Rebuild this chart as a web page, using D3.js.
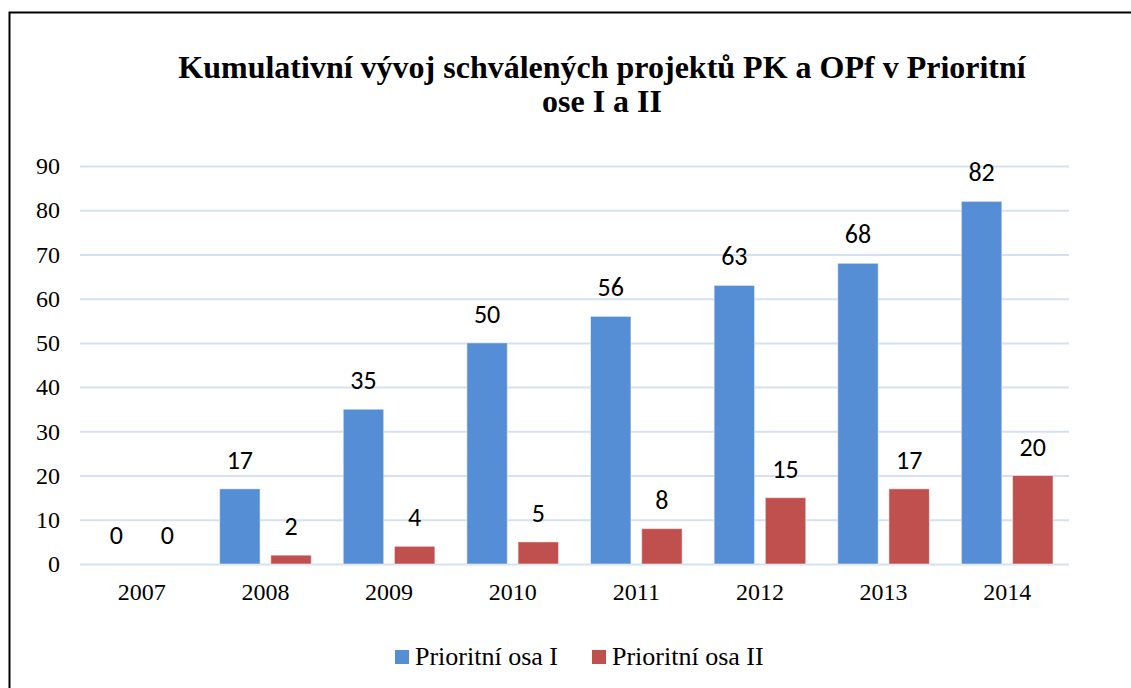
<!DOCTYPE html>
<html>
<head>
<meta charset="utf-8">
<script src="https://cdnjs.cloudflare.com/ajax/libs/d3/7.8.5/d3.min.js"></script>
<style>
  body { margin: 0; background: #fff; }
  svg { display: block; }
</style>
</head>
<body>
<div id="container"></div>
<script>
// Data
const years = ['2007', '2008', '2009', '2010', '2011', '2012', '2013', '2014'];
const osaI = [0, 17, 35, 50, 56, 63, 68, 82];
const osaII = [0, 2, 4, 5, 8, 15, 17, 20];
const seriesNames = ['Prioritní osa I', 'Prioritní osa II'];
const seriesColors = ['#558ED5', '#C0504D'];
const yTicks = [0, 10, 20, 30, 40, 50, 60, 70, 80, 90];

const W = 1131, H = 688;
const serif = "'Liberation Serif', 'Times New Roman', serif";
const svg = d3.select('#container').append('svg')
  .attr('width', W).attr('height', H);

// outer frame (runs off the right/bottom edge)
svg.append('rect')
  .attr('x', 9.5).attr('y', 12.5)
  .attr('width', W + 20).attr('height', H + 20)
  .attr('fill', 'none').attr('stroke', '#000').attr('stroke-width', 2);

// Title
const title = svg.append('text')
  .attr('text-anchor', 'middle')
  .attr('font-family', serif)
  .attr('font-weight', 'bold')
  .attr('font-size', 32);
title.append('tspan').attr('x', 602).attr('y', 78)
  .text('Kumulativní vývoj schválených projektů PK a OPf v Prioritní');
title.append('tspan').attr('x', 602).attr('y', 112)
  .text('ose I a II');

// plot area
const plotLeft = 80, plotRight = 1069, plotTop = 166, plotBottom = 564;

const x0 = d3.scaleBand().domain(years).range([plotLeft, plotRight]).paddingInner(0).paddingOuter(0);
const x1 = d3.scaleBand().domain([0, 1]).range([16, x0.bandwidth() - 16]).paddingInner(0.21);
const y = d3.scaleLinear().domain([0, 90]).range([plotBottom, plotTop]);

// grid lines
svg.append('g')
  .attr('transform', `translate(${plotLeft},0)`)
  .call(d3.axisLeft(y).tickValues(yTicks).tickSize(-(plotRight - plotLeft)).tickFormat(''))
  .call(g => g.select('.domain').remove())
  .call(g => g.selectAll('line').attr('stroke', '#D5E1F1').attr('stroke-width', 2));

// y axis labels
svg.append('g')
  .attr('transform', `translate(${plotLeft - 20},0)`)
  .call(d3.axisLeft(y).tickValues(yTicks).tickSize(0).tickPadding(0))
  .call(g => g.select('.domain').remove())
  .call(g => g.selectAll('text')
    .attr('font-family', serif)
    .attr('font-size', 24).attr('fill', '#000'));

// x axis labels
svg.append('g')
  .attr('transform', `translate(0,${plotBottom})`)
  .call(d3.axisBottom(x0).tickSize(0).tickPadding(19))
  .call(g => g.select('.domain').remove())
  .call(g => g.selectAll('text')
    .attr('font-family', serif)
    .attr('font-size', 24).attr('fill', '#000'));

// bars
const series = [osaI, osaII];
const groups = svg.append('g').selectAll('g')
  .data(years)
  .enter().append('g')
  .attr('transform', d => `translate(${x0(d)},0)`);

groups.selectAll('rect')
  .data((d, i) => series.map((s, k) => ({ k, v: s[i] })))
  .enter().append('rect')
  .attr('x', d => x1(d.k))
  .attr('y', d => y(d.v))
  .attr('width', x1.bandwidth())
  .attr('height', d => plotBottom - y(d.v))
  .attr('fill', d => seriesColors[d.k])
  .attr('stroke', d => d.v > 0 ? 'rgba(255,255,255,0.5)' : 'none')
  .attr('stroke-width', 1);

groups.selectAll('text')
  .data((d, i) => series.map((s, k) => ({ k, v: s[i] })))
  .enter().append('text')
  .attr('x', d => x1(d.k) + x1.bandwidth() / 2)
  .attr('y', d => y(d.v) - 20)
  .attr('text-anchor', 'middle')
  .attr('font-family', "Carlito, 'Open Sans', sans-serif")
  .attr('font-size', 26)
  .attr('fill', '#000')
  .text(d => d.v);

// legend
const legendX = [395, 592];
const legend = svg.append('g').selectAll('g')
  .data(seriesNames)
  .enter().append('g')
  .attr('transform', (d, i) => `translate(${legendX[i]},650)`);
legend.append('rect')
  .attr('width', 14).attr('height', 14)
  .attr('fill', (d, i) => seriesColors[i]);
legend.append('text')
  .attr('x', 20).attr('y', 15)
  .attr('font-family', serif)
  .attr('font-size', 26)
  .attr('fill', '#000')
  .text(d => d);
</script>
</body>
</html>
